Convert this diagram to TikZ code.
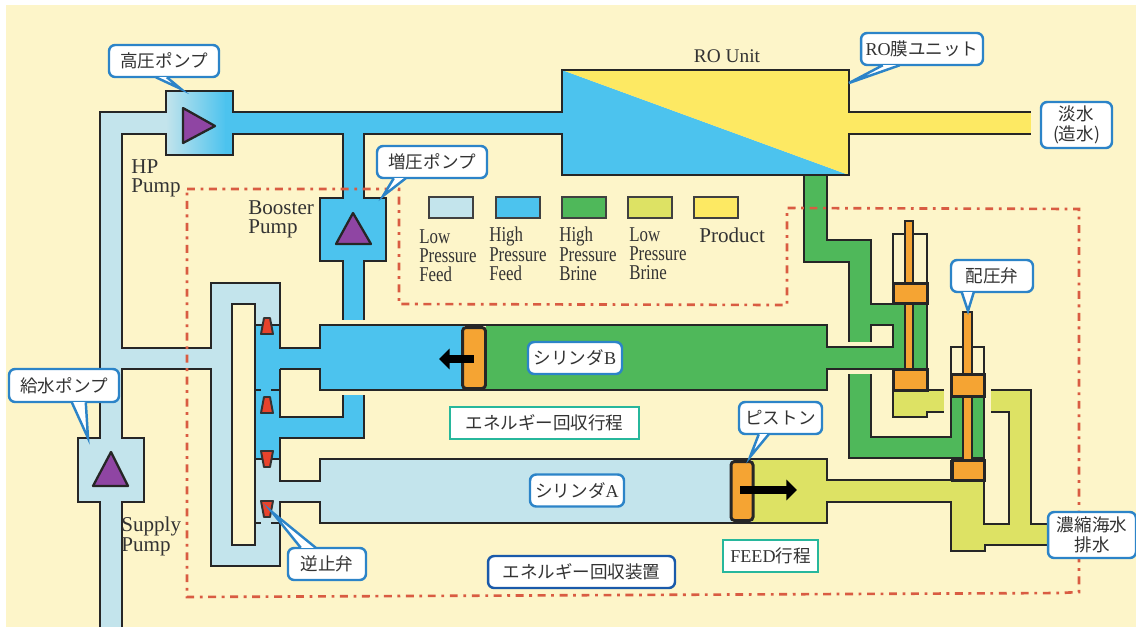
\documentclass[tikz,border=0pt]{standalone}
\usepackage{fontspec}
\setmainfont{Liberation Serif}
\newfontfamily\jp{Noto Sans CJK JP}[Scale=0.97]
\newfontfamily\nar{Liberation Serif}[FakeStretch=0.8]
\usetikzlibrary{arrows.meta,positioning,calc}
\definecolor{lowfeed}{HTML}{C3E4EC}
\definecolor{highfeed}{HTML}{4CC3EE}
\definecolor{highbrine}{HTML}{4FB85A}
\definecolor{lowbrine}{HTML}{DDE264}
\definecolor{prod}{HTML}{FDE963}
\definecolor{paper}{HTML}{FDF5C9}
\definecolor{orng}{HTML}{F5A433}
\definecolor{purp}{HTML}{8F45A3}
\definecolor{klap}{HTML}{E8432C}
\definecolor{dash}{HTML}{D95C42}
\definecolor{kek}{HTML}{2C84C8}
\definecolor{sotet}{HTML}{1A5AAA}
\definecolor{zold}{HTML}{27B79C}
\tikzset{
  cso/.style={line width=1.4pt,black!85,line join=miter},
  dugo/.style={draw=black!85,line width=1.7pt,fill=orng},
  pumpa/.style={draw=black!85,line width=1.3pt,fill=purp,line join=round},
  szelep/.style={draw=black!80,line width=1.1pt,fill=klap,line join=round},
  keret/.style={draw=dash,line width=1.5pt,dash pattern=on 4.5pt off 3.2pt on 1.6pt off 3.2pt},
  cimke/.style={draw=kek,line width=1.4pt,fill=white,rounded corners=3.5pt,inner sep=0pt,
    font=\fontsize{10.3}{11.6}\selectfont\jp,align=center,text=black!80},
  farok/.style={draw=kek,line width=1.4pt,fill=white,line join=miter},
  doboz/.style={cimke,draw=zold,rounded corners=0pt},
  minta/.style={draw=black!75,line width=1.3pt,minimum width=.88cm,minimum height=.42cm,inner sep=0pt},
  felirat/.style={font=\fontsize{12}{10.9}\selectfont,align=left,text=black!80,inner sep=0pt},
  nyil/.style={line width=5pt,black,-{Triangle[length=6pt,width=11.5pt]}},
}
\begin{document}
\begin{tikzpicture}[x=.02cm,y=-.02cm]
  \useasboundingbox[fill=white] (0,0) rectangle (1136,627);
  \fill[paper] (6,5) rectangle (1136,627);
  % low pressure feed
  \foreach \a/\b/\c/\d in {100/112/122/627,78/438/144/502,100/112/170/134,122/348/212/369,
      211/283/280/567,280/480/321/503,320/459/732/523}
    \fill[lowfeed] (\a,\b) rectangle (\c,\d);
  \fill[paper] (232,304) rectangle (255,545);
  % high pressure feed
  \foreach \a/\b/\c/\d in {255/325/280/459,279/348/321/369,320/325/464/390,279/417/364/438,
      343/395/364/439,343/134/364/199,320/198/386/261,343/260/364/320,226/112/563/134}
    \fill[highfeed] (\a,\b) rectangle (\c,\d);
  \shade[left color=lowfeed,right color=highfeed] (166,91) rectangle (226,155);
  \fill[highfeed] (225,91) rectangle (233,155);
  % RO unit
  \fill[highfeed] (562,70) -- (849,175) -- (562,175) -- cycle;
  \fill[prod] (562,70) -- (849,70) -- (849,175) -- cycle;
  \fill[prod] (848,112) rectangle (1031,134);
  % high pressure brine
  \foreach \a/\b/\c/\d in {804/175/827/262,804/240/871/262,849/240/871/342,849/304/893/325,
      871/304/927/325,893/303/927/370,486/325/827/390,826/347/893/369,849/374/871/458,
      849/437/984/458,951/396/984/461}
    \fill[highbrine] (\a,\b) rectangle (\c,\d);
  % low pressure brine
  \foreach \a/\b/\c/\d in {893/390/927/417,926/390/944/412,991/390/1031/412,1009/411/1031/545,
      984/524/1048/545,826/480/984/502,951/501/984/551,752/459/827/523}
    \fill[lowbrine] (\a,\b) rectangle (\c,\d);
  % pipe walls
  \draw[cso] (100,627) -- (100,502) -- (78,502) -- (78,438) -- (100,438) -- (100,112) -- (166,112)
    -- (166,91) -- (233,91) -- (233,112) -- (562,112) -- (562,70) -- (849,70) -- (849,112) -- (1031,112);
  \draw[cso] (122,627) -- (122,502) -- (144,502) -- (144,438) -- (122,438) -- (122,369) -- (211,369)
    -- (211,566) -- (280,566) -- (280,502) -- (320,502) -- (320,523) -- (827,523) -- (827,502)
    -- (951,502) -- (951,551) -- (985,551) -- (985,545) -- (1048,545);
  \draw[cso] (211,348) -- (122,348) -- (122,134) -- (166,134) -- (166,155) -- (233,155) -- (233,134)
    -- (343,134) -- (343,198) -- (320,198) -- (320,261) -- (343,261) -- (343,320);
  \draw[cso] (364,320) -- (364,261) -- (386,261) -- (386,198) -- (364,198) -- (364,134) -- (562,134)
    -- (562,175) -- (849,175) -- (849,134) -- (1031,134);
  \draw[cso] (122,348) -- (211,348) -- (211,283) -- (280,283) -- (280,348) -- (320,348) -- (320,325)
    -- (827,325) -- (827,347) -- (893,347) -- (893,325) -- (871,325) -- (871,342);
  \draw[cso] (232,304) rectangle (255,545);
  \draw[cso] (280,369) -- (320,369) -- (320,390) -- (827,390) -- (827,369) -- (893,369) -- (893,417)
    -- (927,417) -- (927,412) -- (944,412);
  \draw[cso] (280,369) -- (280,417) -- (343,417) -- (343,395);
  \draw[cso] (364,395) -- (364,438) -- (280,438) -- (280,481) -- (320,481) -- (320,459) -- (827,459)
    -- (827,480) -- (984,480);
  \draw[cso] (804,175) -- (804,262) -- (849,262) -- (849,342);
  \draw[cso] (827,175) -- (827,240) -- (871,240) -- (871,304) -- (893,304) -- (893,234) -- (927,234)
    -- (927,390) -- (944,390);
  \draw[cso] (849,374) -- (849,458) -- (984,458);
  \draw[cso] (871,374) -- (871,437) -- (951,437) -- (951,347) -- (984,347) -- (984,524) -- (1009,524)
    -- (1009,412) -- (991,412);
  \draw[cso] (951,460) -- (951,480);
  \draw[cso] (991,390) -- (1031,390) -- (1031,524) -- (1048,524);
  % dividers beside the valves
  \foreach \y in {325,459} \draw[cso,line width=1pt] (255,\y) -- (280,\y);
  \foreach \y in {390,523} {
    \draw[cso,line width=.8pt] (255,\y) -- (261,\y);
    \draw[cso,line width=.8pt] (271,\y) -- (280,\y);
  }
  % check valves
  \foreach \y in {318,397} \draw[szelep] (264,\y) -- (270,\y) -- (273,\y+16) -- (261,\y+16) -- cycle;
  \foreach \y in {451,501} \draw[szelep] (261,\y) -- (273,\y) -- (270,\y+16) -- (264,\y+16) -- cycle;
  % pumps
  \draw[pumpa] (183,108) -- (215,126) -- (183,143) -- cycle;
  \draw[pumpa] (353,213) -- (371,244) -- (336,244) -- cycle;
  \draw[pumpa] (111,452) -- (128,486) -- (93,486) -- cycle;
  % valve rods and pistons
  \draw[cso,fill=orng] (905,221) rectangle (913,369);
  \draw[cso,fill=orng] (963,312) rectangle (972,460);
  \foreach \a/\b/\c/\d in {893/283/927/303,893/369/927/390,951/374/984/396,952/460/984/480}
    \draw[dugo] (\a,\b) rectangle (\c,\d);
  \node[dugo,rounded corners=2pt,minimum width=.46cm,minimum height=1.22cm,inner sep=0pt] (pistB) at (474,358) {};
  \node[dugo,rounded corners=2pt,minimum width=.44cm,minimum height=1.18cm,inner sep=0pt] (pistA) at (742,491) {};
  \coordinate (arrB) at (439,359);
  \coordinate (arrA) at (797,490);
  \draw[nyil] (474,359) -- (arrB);
  \draw[nyil] (740,490) -- (arrA);
  % boundary of the recovery unit
  \draw[keret] (187,189) -- (399,189) -- (399,304) -- (787,305) -- (787,208) -- (1079,209) -- (1079,592)
    -- (1060,593) -- (187,597) -- cycle;
  % legend
  \foreach \i/\x/\tx/\ty/\col/\lab in {1/451/419/229/lowfeed/{Low\\Pressure\\Feed},2/518/489/227/highfeed/{High\\Pressure\\Feed},
      3/584/559/227/highbrine/{High\\Pressure\\Brine},4/650/629/227/lowbrine/{Low\\Pressure\\Brine}} {
    \node[minta,fill=\col] (sw\i) at (\x,207.5) {};
    \node[felirat,anchor=north west,font=\fontsize{12}{10.9}\selectfont\nar] (lab\i) at (\tx,\ty) {\lab};
  }
  \node[minta,fill=prod] (sw5) at (716,207.5) {};
  \node[felirat,anchor=north west] (lab5) at (699,228) {Product};
  % plain labels
  \node[felirat,anchor=north west] (hpP) at (131,159) {HP\\Pump};
  \node[felirat,anchor=north west] (boP) at (248,200) {Booster\\Pump};
  \node[felirat,anchor=north west] (suP) at (121,517) {Supply\\Pump};
  \node[felirat,font=\fontsize{11}{12}\selectfont] (roU) at (727,56) {RO Unit};
  % call-outs
  \node[cimke,minimum width=2.2cm,minimum height=.64cm] (hpC) at (164,61) {高圧ポンプ};
  \coordinate (hpT) at (181,89);
  \path[farok] ($(hpC.south west)+(48,-1)$) -- (hpT) -- ($(hpC.south west)+(59,-1)$);
  \node[cimke,minimum width=2.2cm,minimum height=.64cm] (boC) at (432,162) {増圧ポンプ};
  \coordinate (boT) at (383,196);
  \path[farok] ($(boC.south west)+(18,-1)$) -- (boT) -- ($(boC.south west)+(30,-1)$);
  \node[cimke,minimum width=2.2cm,minimum height=.66cm] (suC) at (64,385.5) {給水ポンプ};
  \coordinate (suT) at (88,438);
  \path[farok] ($(suC.south west)+(64,-1)$) -- (suT) -- ($(suC.south west)+(78,-1)$);
  \node[cimke,minimum width=1.56cm,minimum height=.64cm] (vaC) at (327,564) {逆止弁};
  \coordinate (vaT) at (272,512);
  \path[farok] ($(vaC.north west)+(14,1)$) -- (vaT) -- ($(vaC.north west)+(29,1)$);
  \node[cimke,minimum width=2.44cm,minimum height=.64cm] (roC) at (922,49) {{\rmfamily RO}膜ユニット};
  \coordinate (roT) at (849,83);
  \path[farok] ($(roC.south west)+(23,-1)$) -- (roT) -- ($(roC.south west)+(40,-1)$);
  \node[cimke,minimum width=1.42cm,minimum height=.92cm] (prC) at (1076.5,125) {淡水\\(造水)};
  \node[cimke,minimum width=1.64cm,minimum height=.64cm] (prV) at (992,276) {配圧弁};
  \coordinate (prT) at (968,311);
  \path[farok] ($(prV.south west)+(12,-1)$) -- (prT) -- ($(prV.south west)+(24,-1)$);
  \node[cimke,minimum width=1.76cm,minimum height=.92cm] (brC) at (1092,535) {濃縮海水\\排水};
  \node[cimke,minimum width=1.66cm,minimum height=.64cm] (piC) at (780.5,418) {ピストン};
  \coordinate (piT) at (750,457);
  \path[farok] ($(piC.south west)+(21,-1)$) -- (piT) -- ($(piC.south west)+(31,-1)$);
  \node[cimke,minimum width=1.88cm,minimum height=.64cm] (cyB) at (575,358) {シリンダ{\rmfamily B}};
  \node[cimke,minimum width=1.88cm,minimum height=.64cm] (cyA) at (577,490.5) {シリンダ{\rmfamily A}};
  \node[doboz,minimum width=3.78cm,minimum height=.64cm] (enR) at (544.5,423) {エネルギー回収行程};
  \node[doboz,minimum width=1.9cm,minimum height=.64cm] (feD) at (770.5,556) {{\rmfamily FEED}行程};
  \node[cimke,draw=sotet,minimum width=3.74cm,minimum height=.64cm] (enU) at (581.5,572) {エネルギー回収装置};
\end{tikzpicture}
\end{document}
